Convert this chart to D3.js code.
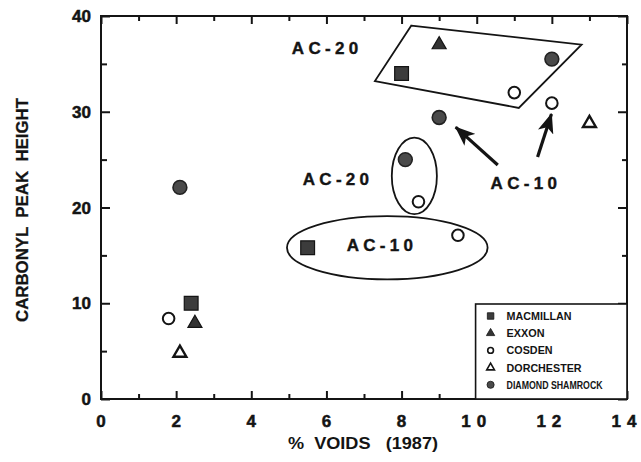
<!DOCTYPE html>
<html><head><meta charset="utf-8">
<script src="https://cdn.jsdelivr.net/npm/d3@7"></script>
<style>
html,body{margin:0;padding:0;background:#fff;}
svg{display:block;font-family:"Liberation Sans",Arial,Helvetica,sans-serif;font-weight:bold;}
</style></head><body>
<svg id="chart" width="641" height="462"></svg>
<script>
// Carbonyl peak height against % voids, by asphalt supplier
const brands = ["MACMILLAN", "EXXON", "COSDEN", "DORCHESTER", "DIAMOND SHAMROCK"];

const macmillanVoids = [2.4, 5.5, 8.0];
const macmillanCarbonyl = [10.0, 15.8, 34.0];

const exxonVoids = [2.5, 9.0];
const exxonCarbonyl = [7.9, 37.0];

const cosdenVoids = [1.8, 8.45, 9.5, 11.0, 12.0];
const cosdenCarbonyl = [8.4, 20.6, 17.1, 32.0, 30.9];

const dorchesterVoids = [2.1, 13.0];
const dorchesterCarbonyl = [4.8, 28.8];

const shamrockVoids = [2.1, 8.1, 9.0, 12.0];
const shamrockCarbonyl = [22.1, 25.0, 29.4, 35.5];

const xTickLabels = ["0", "2", "4", "6", "8", "10", "12", "14"];
const yTickLabels = ["0", "10", "20", "30", "40"];

// Grade groupings (data units)
const ac20Box = [[8.26, 39.0], [12.79, 37.0], [11.12, 30.4], [7.29, 33.2]];
const ac20EllipseCentre = [8.34, 23.3], ac20EllipseRadii = [0.6, 4.0];
const ac10EllipseCentre = [7.62, 15.8], ac10EllipseRadii = [2.67, 3.3];
const arrowFrom = [[10.56, 24.44], [11.62, 25.27]];
const arrowTo = [[9.44, 28.4], [11.99, 29.77]];
const gradeLabels = ["AC-20", "AC-20", "AC-10", "AC-10"];
const gradeLabelAt = [[5.08, 36.0], [5.37, 22.35], [6.54, 15.46], [10.37, 21.93]];

const svg = d3.select("#chart");
const ink = "#141414";

const x = d3.scaleLinear().domain([0, 14]).range([101, 627]);
const y = d3.scaleLinear().domain([0, 40]).range([399, 16]);

// Arrowhead marker
svg.append("defs").append("marker")
  .attr("id", "head").attr("markerUnits", "userSpaceOnUse")
  .attr("viewBox", "0 0 20 16").attr("refX", 19).attr("refY", 8)
  .attr("markerWidth", 20).attr("markerHeight", 16).attr("orient", "auto")
  .append("path").attr("d", "M0,0 L20,8 L0,16 L5,8 Z").attr("fill", ink);

// Axes with inward ticks, longer at labelled values
const xTicks = d3.range(0, 15, 1);
const yTicks = d3.range(0, 41, 5);

function styleAxis(g) {
  g.select(".domain").remove();
  g.selectAll(".tick line").attr("stroke", ink).attr("stroke-width", 2);
}

const axisB = svg.append("g").attr("transform", `translate(0,${y(0)})`)
  .call(d3.axisBottom(x).tickValues(xTicks).tickSize(0).tickFormat(""));
axisB.call(styleAxis);
axisB.selectAll(".tick line").attr("y2", d => d % 2 === 0 ? -8 : -5);

const axisT = svg.append("g").attr("transform", `translate(0,${y(40)})`)
  .call(d3.axisTop(x).tickValues(xTicks).tickSize(0).tickFormat(""));
axisT.call(styleAxis);
axisT.selectAll(".tick line").attr("y2", d => d % 2 === 0 ? 8 : 5);

const axisL = svg.append("g").attr("transform", `translate(${x(0)},0)`)
  .call(d3.axisLeft(y).tickValues(yTicks).tickSize(0).tickFormat(""));
axisL.call(styleAxis);
axisL.selectAll(".tick line").attr("x2", d => d % 10 === 0 ? 9 : 6);

const axisR = svg.append("g").attr("transform", `translate(${x(14)},0)`)
  .call(d3.axisRight(y).tickValues(yTicks).tickSize(0).tickFormat(""));
axisR.call(styleAxis);
axisR.selectAll(".tick line").attr("x2", d => d % 10 === 0 ? -9 : -5);

// Frame
svg.append("rect").attr("x", x(0)).attr("y", y(40))
  .attr("width", x(14) - x(0)).attr("height", y(0) - y(40))
  .attr("fill", "none").attr("stroke", ink).attr("stroke-width", 2);

// Tick labels (heavy weight, two-digit values spaced out)
const xLabelValues = d3.range(0, 15, 2);
svg.append("g").selectAll("text").data(xLabelValues).join("text")
  .attr("x", d => x(d)).attr("y", 427)
  .attr("text-anchor", "middle").attr("font-size", 17).attr("fill", ink)
  .attr("stroke", ink).attr("stroke-width", 0.5)
  .attr("letter-spacing", (d, i) => xTickLabels[i].length > 1 ? 6 : 0)
  .text((d, i) => xTickLabels[i]);

const yLabelValues = d3.range(0, 41, 10);
svg.append("g").selectAll("text").data(yLabelValues).join("text")
  .attr("x", 91).attr("y", d => y(d) + 6)
  .attr("text-anchor", "end").attr("font-size", 17).attr("fill", ink)
  .attr("stroke", ink).attr("stroke-width", 0.5)
  .text((d, i) => yTickLabels[i]);

// Axis titles
svg.append("text").attr("transform", "translate(28,210) rotate(-90)")
  .attr("text-anchor", "middle").attr("font-size", 16).attr("fill", ink)
  .attr("stroke", ink).attr("stroke-width", 0.3)
  .attr("textLength", 224).attr("lengthAdjust", "spacingAndGlyphs")
  .attr("xml:space", "preserve")
  .text("CARBONYL  PEAK  HEIGHT");

svg.append("text").attr("x", 363).attr("y", 449)
  .attr("text-anchor", "middle").attr("font-size", 16).attr("fill", ink)
  .attr("textLength", 150).attr("lengthAdjust", "spacingAndGlyphs")
  .attr("xml:space", "preserve")
  .text("%  VOIDS   (1987)");

// Groupings
const ann = svg.append("g").attr("fill", "none").attr("stroke", ink).attr("stroke-width", 1.8);
ann.append("path")
  .attr("d", d3.line().x(d => x(d[0])).y(d => y(d[1])).curve(d3.curveLinearClosed)(ac20Box));
ann.append("ellipse")
  .attr("cx", x(ac20EllipseCentre[0])).attr("cy", y(ac20EllipseCentre[1]))
  .attr("rx", x(ac20EllipseRadii[0]) - x(0)).attr("ry", y(0) - y(ac20EllipseRadii[1]));
ann.append("ellipse")
  .attr("cx", x(ac10EllipseCentre[0])).attr("cy", y(ac10EllipseCentre[1]))
  .attr("rx", x(ac10EllipseRadii[0]) - x(0)).attr("ry", y(0) - y(ac10EllipseRadii[1]));

svg.append("g").selectAll("line").data(arrowFrom).join("line")
  .attr("x1", d => x(d[0])).attr("y1", d => y(d[1]))
  .attr("x2", (d, i) => x(arrowTo[i][0])).attr("y2", (d, i) => y(arrowTo[i][1]))
  .attr("stroke", ink).attr("stroke-width", 3.2)
  .attr("marker-end", "url(#head)");

svg.append("g").selectAll("text").data(gradeLabels).join("text")
  .attr("x", (d, i) => x(gradeLabelAt[i][0])).attr("y", (d, i) => y(gradeLabelAt[i][1]))
  .attr("font-size", 17).attr("letter-spacing", 4.3).attr("fill", ink)
  .attr("stroke", ink).attr("stroke-width", 0.4)
  .text(d => d);

// Data marks
const sym = (type, size) => d3.symbol().type(type).size(size)();
const series = [
  { vx: macmillanVoids, vy: macmillanCarbonyl, path: sym(d3.symbolSquare, 190), fill: "#3c3c3c", stroke: ink, sw: 1.2 },
  { vx: exxonVoids, vy: exxonCarbonyl, path: sym(d3.symbolTriangle, 85), fill: "#333", stroke: ink, sw: 1.2 },
  { vx: cosdenVoids, vy: cosdenCarbonyl, path: sym(d3.symbolCircle, 105), fill: "#fff", stroke: ink, sw: 2 },
  { vx: dorchesterVoids, vy: dorchesterCarbonyl, path: sym(d3.symbolTriangle, 72), fill: "#fff", stroke: ink, sw: 2.4 },
  { vx: shamrockVoids, vy: shamrockCarbonyl, path: sym(d3.symbolCircle, 150), fill: "#4a4a4a", stroke: "#222", sw: 1.6 }
];
const marks = svg.append("g");
series.forEach(s => {
  marks.append("g").selectAll("path").data(s.vx).join("path")
    .attr("transform", (d, i) => `translate(${x(d)},${y(s.vy[i])})`)
    .attr("d", s.path).attr("fill", s.fill)
    .attr("stroke", s.stroke).attr("stroke-width", s.sw);
});

// Legend
const legendLeft = x(9.97), legendTop = 304;
const legend = svg.append("g");
legend.append("rect").attr("x", legendLeft).attr("y", legendTop)
  .attr("width", x(14) - legendLeft).attr("height", y(0) - legendTop)
  .attr("fill", "#fff").attr("stroke", ink).attr("stroke-width", 1.6);
const legendPaths = [
  sym(d3.symbolSquare, 42), sym(d3.symbolTriangle, 30), sym(d3.symbolCircle, 26),
  sym(d3.symbolTriangle, 26), sym(d3.symbolCircle, 40)
];
const legendTextWidth = [65, 38, 46, 75, 96];
brands.forEach((b, i) => {
  const cy = legendTop + 12 + i * 17.2;
  const s = series[i];
  legend.append("path").attr("transform", `translate(${legendLeft + 15},${cy})`)
    .attr("d", legendPaths[i]).attr("fill", s.fill)
    .attr("stroke", ink).attr("stroke-width", i === 2 || i === 3 ? 1.6 : 0.8);
  legend.append("text").attr("x", legendLeft + 31).attr("y", cy + 4)
    .attr("font-size", 10.5).attr("fill", ink)
    .attr("textLength", legendTextWidth[i]).attr("lengthAdjust", "spacingAndGlyphs")
    .text(b);
});
</script>
</body></html>
